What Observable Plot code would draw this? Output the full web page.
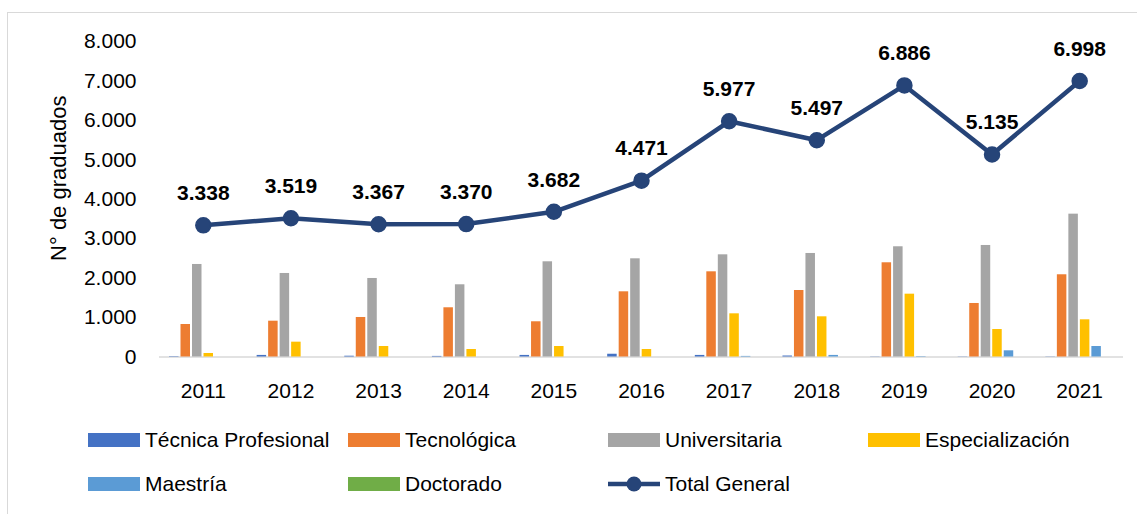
<!DOCTYPE html>
<html><head><meta charset="utf-8">
<script src="https://cdn.jsdelivr.net/npm/d3@7"></script>
<script src="https://cdn.jsdelivr.net/npm/@observablehq/plot@0.6"></script>
<style>
body{margin:0;background:#fff;font-family:"Liberation Sans",Arial,sans-serif;}
#wrap{position:relative;width:1137px;height:514px;overflow:hidden;background:#fff;}
#frame{position:absolute;left:7px;top:12px;width:1200px;height:600px;border:1.5px solid #D9D9D9;box-sizing:border-box;}
#chart{position:absolute;left:0;top:0;}
#legend{position:absolute;left:88px;top:418px;display:grid;grid-template-columns:repeat(4,260px);grid-auto-rows:44px;font-size:21px;color:#000;}
.item{display:flex;align-items:center;white-space:nowrap;}
.sw{width:52px;height:14px;margin-right:5px;flex:none;}
</style></head><body>
<div id="wrap"><div id="frame"></div><div id="chart"></div><div id="legend"></div></div>
<script>
const years = ["2011","2012","2013","2014","2015","2016","2017","2018","2019","2020","2021"];
const tecnicaProfesional = [10, 40, 20, 15, 40, 70, 40, 25, 5, 5, 5];
const tecnologica       = [824, 908, 1002, 1248, 893, 1653, 2160, 1686, 2389, 1357, 2085];
const universitaria     = [2346, 2118, 1991, 1831, 2414, 2490, 2591, 2625, 2795, 2828, 3622];
const especializacion   = [89, 376, 266, 190, 266, 190, 1095, 1019, 1593, 697, 943];
const maestria          = [0, 0, 0, 0, 0, 0, 15, 40, 10, 157, 266];
const doctorado         = [0, 0, 0, 0, 0, 0, 0, 0, 0, 0, 0];
const totalGeneral      = [3338, 3519, 3367, 3370, 3682, 4471, 5977, 5497, 6886, 5135, 6998];
const seriesNames  = ["Técnica Profesional","Tecnológica","Universitaria","Especialización","Maestría","Doctorado"];
const seriesColors = ["#4472C4","#ED7D31","#A5A5A5","#FFC000","#5B9BD5","#70AD47"];
const seriesValues = [tecnicaProfesional, tecnologica, universitaria, especializacion, maestria, doctorado];
const totalName = "Total General";
const lineColor = "#264478";
const yTicks = [0,1000,2000,3000,4000,5000,6000,7000,8000];

const W = 1137, H = 415, mL = 159, mR = 14, mT = 41, mB = 58.5;
const bw = (W - mL - mR) / years.length;
const fmt = d => d3.format(",")(d).replace(/,/g, ".");
const totals = years.map((y, k) => ({year: y, total: totalGeneral[k]}));

const marks = [Plot.ruleY([0], {stroke: "#D9D9D9", strokeWidth: 1.5})];
seriesValues.forEach((vals, i) => {
  const il = 10 + i * 11.5;
  marks.push(Plot.barY(years.map((y, k) => ({year: y, value: vals[k]})), {
    x: "year", y: "value", fill: seriesColors[i], insetLeft: il, insetRight: bw - il - 9.5
  }));
});
marks.push(
  Plot.line(totals, {x: "year", y: "total", stroke: lineColor, strokeWidth: 4.5}),
  Plot.dot(totals, {x: "year", y: "total", r: 7.5, fill: lineColor, stroke: lineColor}),
  Plot.text(totals, {x: "year", y: "total", text: d => fmt(d.total), dy: -32, fontWeight: "bold", fontSize: 21, fill: "#000"}),
  Plot.axisY({ticks: yTicks, tickSize: 0, tickPadding: 23, tickFormat: fmt, label: null}),
  Plot.axisX({tickSize: 0, tickPadding: 26, label: null}),
  Plot.text([0], {frameAnchor: "left", textAnchor: "middle", dx: -101, dy: -21, rotate: -90, text: () => "N° de graduados", fontSize: 22, fill: "#000"})
);

const chart = Plot.plot({
  width: W, height: H,
  marginLeft: mL, marginRight: mR, marginTop: mT, marginBottom: mB,
  x: {type: "band", domain: years, padding: 0, round: false},
  y: {domain: [0, 8000]},
  style: {fontSize: "21px", fontFamily: '"Liberation Sans", Arial, sans-serif', color: "#000", background: "transparent", overflow: "visible"},
  marks
});
document.getElementById("chart").appendChild(chart);

const legend = document.getElementById("legend");
seriesNames.forEach((n, i) => {
  const it = document.createElement("div"); it.className = "item";
  it.innerHTML = `<span class="sw" style="background:${seriesColors[i]}"></span><span>${n}</span>`;
  legend.appendChild(it);
});
const tl = document.createElement("div"); tl.className = "item";
tl.innerHTML = `<svg width="52" height="20" style="margin-right:5px;flex:none"><line x1="0" y1="10" x2="52" y2="10" stroke="${lineColor}" stroke-width="4.5"/><circle cx="26" cy="10" r="7.5" fill="${lineColor}"/></svg><span>${totalName}</span>`;
legend.appendChild(tl);
</script>
</body></html>
